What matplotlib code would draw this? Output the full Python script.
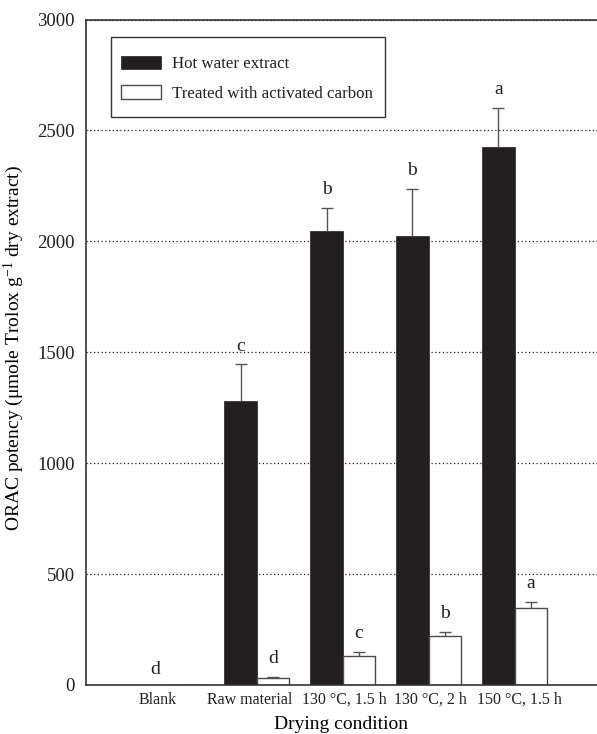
import numpy as np
import matplotlib
matplotlib.use("Agg")
import matplotlib.pyplot as plt
from matplotlib.patches import Rectangle

plt.rcParams['font.family'] = ['Liberation Serif', 'DejaVu Serif']
plt.rcParams['mathtext.fontset'] = 'custom'
plt.rcParams['mathtext.rm'] = 'Liberation Serif'
plt.rcParams['mathtext.it'] = 'Liberation Serif:italic'
plt.rcParams['text.color'] = '#231f20'
plt.rcParams['xtick.color'] = '#231f20'
plt.rcParams['ytick.color'] = '#231f20'

conditions = ['Blank', 'Raw material', '130 \u00b0C, 1.5 h', '130 \u00b0C, 2 h', '150 \u00b0C, 1.5 h']
hot_water = [0, 1280, 2045, 2025, 2425]
hot_water_err = [0, 165, 105, 210, 175]
carbon = [0, 30, 130, 220, 345]
carbon_err = [0, 6, 20, 20, 30]
hot_letters = ['d', 'c', 'b', 'b', 'a']
carbon_letters = [None, 'd', 'c', 'b', 'a']

# small shifts so the category names sit where they were typeset
label_shift = [-0.16, -0.08, 0.02, 0.02, 0.06]

x = np.arange(len(conditions))
w = 0.378
dark = '#231f20'

fig = plt.figure(figsize=(5.97, 7.34), dpi=100)
ax = fig.add_axes([0.144, 0.0668, 0.856, 0.9066])

ax.bar(x - w, hot_water, width=w, align='edge', color=dark, edgecolor=dark,
       linewidth=0.5, label='Hot water extract', zorder=2)
ax.bar(x, carbon, width=w, align='edge', color='white', edgecolor='#4a4a4a',
       linewidth=1.0, label='Treated with activated carbon', zorder=2)


def draw_err(xc, vals, errs):
    vals = np.array(vals, dtype=float)
    errs = np.array(errs, dtype=float)
    keep = errs > 0
    eb = ax.errorbar(xc[keep], vals[keep], yerr=[np.zeros(keep.sum()), errs[keep]],
                     fmt='none', ecolor='#555555', elinewidth=1.0, capsize=4,
                     capthick=1.0, zorder=3)
    eb[1][0].set_visible(False)  # only the upper cap


draw_err(x - w / 2, hot_water, hot_water_err)
draw_err(x + w / 2, carbon, carbon_err)

for xi, v, e, t in zip(x - w / 2, hot_water, hot_water_err, hot_letters):
    if t:
        ax.annotate(t, (xi, v + e), xytext=(0, 10 if e else 8), textcoords='offset points',
                    ha='center', va='baseline', fontsize=14)
for xi, v, e, t in zip(x + w / 2, carbon, carbon_err, carbon_letters):
    if t:
        ax.annotate(t, (xi, v + e), xytext=(0, 10), textcoords='offset points',
                    ha='center', va='baseline', fontsize=14)

ax.set_ylim(0, 3000)
ax.set_xlim(-0.99, 4.96)
ax.set_yticks(np.arange(0, 3001, 500))
ax.set_xticks(x + np.array(label_shift))
ax.set_xticklabels(conditions, fontsize=11.5)
ax.tick_params(axis='y', length=0, pad=8, labelsize=13.5)
ax.tick_params(axis='x', length=0, pad=5)

ax.yaxis.grid(True, linestyle=(0, (1, 2)), color='#222222', linewidth=0.9)
ax.set_axisbelow(True)

for side in ['left', 'bottom', 'top']:
    ax.spines[side].set_color('#333333')
    ax.spines[side].set_linewidth(1.2)
ax.spines['right'].set_visible(False)

ax.set_xlabel('Drying condition', fontsize=14, labelpad=6)
ax.set_ylabel('ORAC potency (\u03bcmole Trolox g$^{-1}$ dry extract)', fontsize=14, labelpad=3)
ax.yaxis.set_label_coords(-0.118, 0.506)

# legend entries without frame, box drawn separately
leg = ax.legend(loc='upper left', bbox_to_anchor=(0.0685, 0.9455), borderaxespad=0,
                borderpad=0, fontsize=12.2, frameon=False,
                handlelength=2.35, handleheight=0.85, handletextpad=0.65,
                labelspacing=0.75)
ax.add_patch(Rectangle((0.049, 0.854), 0.536, 0.1204, transform=ax.transAxes,
                       facecolor='white', edgecolor='#333333', linewidth=1.0, zorder=4))
leg.set_zorder(5)

fig.savefig('out.png', dpi=100)
plt.close(fig)
